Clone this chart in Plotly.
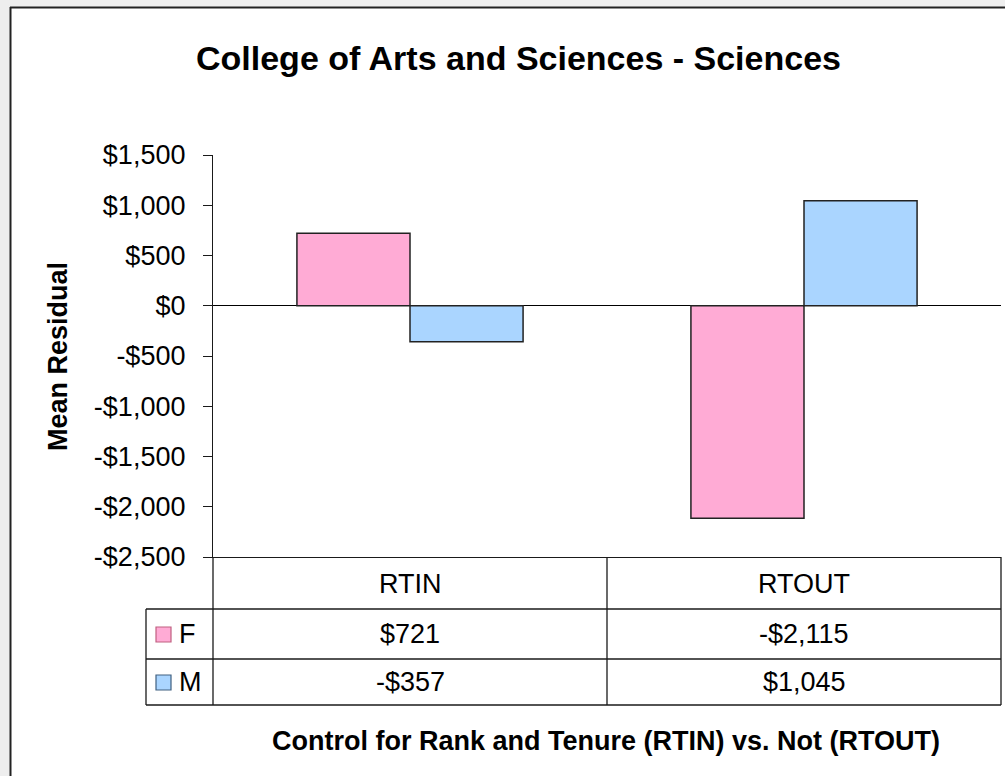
import plotly.graph_objects as go

# ---------------- data ----------------
categories = ["RTIN", "RTOUT"]
series_names = ["F", "M"]
values_F = [721, -2115]
values_M = [-357, 1045]
colors = ["#FFABD5", "#AAD5FF"]
legend_borders = ["#C06080", "#406080"]
y_tickvals = [-2500, -2000, -1500, -1000, -500, 0, 500, 1000, 1500]

title_text = "College of Arts and Sciences - Sciences"
y_title = "Mean Residual"
x_title = "Control for Rank and Tenure (RTIN) vs. Not (RTOUT)"


def money(v):
    s = "${:,.0f}".format(abs(v))
    return "-" + s if v < 0 else s


y_ticktext = [money(v) for v in y_tickvals]

# ---------------- layout geometry (screen pixels) ----------------
W, H = 1005, 776
PL, PR, PT, PB = 213, 1001, 155, 557   # plot area edges


def xp(px):
    return (px - PL) / (PR - PL)


def yp(py):
    return (PB - py) / (PB - PT)


FONT = "Liberation Sans, Arial, sans-serif"
LINE = "#1a1a1a"
TS = 27   # general text size

fig = go.Figure()
all_vals = [values_F, values_M]
for name, vals, col in zip(series_names, all_vals, colors):
    fig.add_trace(go.Bar(
        x=categories, y=vals, name=name,
        marker=dict(color=col, line=dict(color="#222222", width=1.5)),
        showlegend=False, hoverinfo="x+y+name",
    ))

shapes = []
# gray outer strips and chart border
shapes.append(dict(type="rect", xref="paper", yref="paper",
                   x0=xp(0), x1=xp(10), y0=yp(0), y1=yp(H),
                   fillcolor="#EEEEEE", line=dict(width=0)))
shapes.append(dict(type="rect", xref="paper", yref="paper",
                   x0=xp(0), x1=xp(W), y0=yp(0), y1=yp(7),
                   fillcolor="#EEEEEE", line=dict(width=0)))
shapes.append(dict(type="line", xref="paper", yref="paper",
                   x0=xp(10.5), x1=xp(10.5), y0=yp(7), y1=yp(H),
                   line=dict(color="#222222", width=2)))
shapes.append(dict(type="line", xref="paper", yref="paper",
                   x0=xp(10), x1=xp(W), y0=yp(7.5), y1=yp(7.5),
                   line=dict(color="#222222", width=2)))

# data table grid
row_lines = [609, 659, 705]
for ry in row_lines:
    shapes.append(dict(type="line", xref="paper", yref="paper",
                       x0=xp(146), x1=xp(PR), y0=yp(ry), y1=yp(ry),
                       line=dict(color=LINE, width=1.3)))
col_mid = (PL + PR) / 2
for cx in [PL, col_mid, PR]:
    shapes.append(dict(type="line", xref="paper", yref="paper",
                       x0=xp(cx), x1=xp(cx), y0=yp(PB), y1=yp(705),
                       line=dict(color=LINE, width=1.3)))
shapes.append(dict(type="line", xref="paper", yref="paper",
                   x0=xp(146), x1=xp(146), y0=yp(609), y1=yp(705),
                   line=dict(color=LINE, width=1.3)))

# legend keys in table
row_centers = [634, 682]
for rc, col, bc in zip(row_centers, colors, legend_borders):
    shapes.append(dict(type="rect", xref="paper", yref="paper",
                       x0=xp(156), x1=xp(171), y0=yp(rc - 7), y1=yp(rc + 8),
                       fillcolor=col, line=dict(color=bc, width=1.2)))

annotations = []
# title
annotations.append(dict(text="<b>" + title_text + "</b>", xref="paper", yref="paper",
                        x=xp(518), y=yp(58), xanchor="center", yanchor="middle",
                        showarrow=False, font=dict(family=FONT, size=34, color="black")))
# y title
annotations.append(dict(text="<b>" + y_title + "</b>", xref="paper", yref="paper",
                        x=xp(58), y=yp(357), xanchor="center", yanchor="middle",
                        textangle=-90, showarrow=False,
                        font=dict(family=FONT, size=TS, color="black")))
# x title
annotations.append(dict(text="<b>" + x_title + "</b>", xref="paper", yref="paper",
                        x=xp(606), y=yp(741), xanchor="center", yanchor="middle",
                        showarrow=False, font=dict(family=FONT, size=TS, color="black")))

# table header + values
col_centers = [(PL + col_mid) / 2, (col_mid + PR) / 2]
for cx, cat in zip(col_centers, categories):
    annotations.append(dict(text=cat, xref="paper", yref="paper",
                            x=xp(cx), y=yp(584), xanchor="center", yanchor="middle",
                            showarrow=False, font=dict(family=FONT, size=TS, color="black")))
for rc, name, vals in zip(row_centers, series_names, all_vals):
    annotations.append(dict(text=name, xref="paper", yref="paper",
                            x=xp(177), y=yp(rc), xanchor="left", yanchor="middle",
                            showarrow=False, font=dict(family=FONT, size=TS, color="black")))
    for cx, v in zip(col_centers, vals):
        annotations.append(dict(text=money(v), xref="paper", yref="paper",
                                x=xp(cx), y=yp(rc), xanchor="center", yanchor="middle",
                                showarrow=False, font=dict(family=FONT, size=TS, color="black")))

fig.update_layout(
    width=W, height=H, autosize=False,
    margin=dict(l=PL, r=W - PR, t=PT, b=H - PB, pad=0),
    paper_bgcolor="white", plot_bgcolor="white",
    barmode="group", bargap=0.426, bargroupgap=0,
    shapes=shapes, annotations=annotations,
    xaxis=dict(showticklabels=False, ticks="", showgrid=False, zeroline=False,
               showline=True, linecolor=LINE, linewidth=1.3, fixedrange=True),
    yaxis=dict(range=[-2500, 1500], tickvals=y_tickvals, ticktext=y_ticktext,
               ticks="outside", ticklen=9, tickcolor=LINE, tickwidth=1.3,
               showline=True, linecolor=LINE, linewidth=1.3,
               showgrid=False, zeroline=True, zerolinecolor="black", zerolinewidth=1.3,
               ticklabelstandoff=12,
               tickfont=dict(family=FONT, size=TS, color="black"), fixedrange=True),
)

fig.write_html(
    "out.html",
    config={"displayModeBar": False},
    post_script="document.body.style.margin='0';document.body.style.overflow='hidden';",
)
